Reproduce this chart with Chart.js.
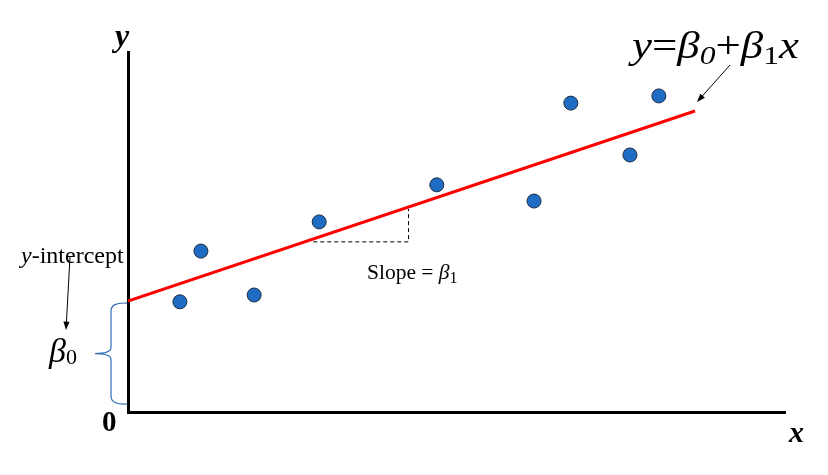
<!DOCTYPE html>
<html>
<head>
<meta charset="utf-8">
<script src="https://cdn.jsdelivr.net/npm/chart.js@4"></script>
<style>
  body { margin: 0; background: #fff; }
</style>
</head>
<body>
<canvas id="chart" width="828" height="475"></canvas>
<script>
// observed points
var pointX = [0.79, 1.11, 1.92, 2.91, 4.70, 6.18, 6.74, 7.64, 8.08];
var pointY = [3.06, 4.47, 3.25, 5.28, 6.31, 5.86, 8.58, 7.14, 8.78];

// fitted line y = b0 + b1 x
var intercept = 3.08;
var slope = 0.612;
var lineX = [0, 8.63];

// slope triangle (x range)
var triX = [2.82, 4.27];

var serif = "'Liberation Serif', 'Times New Roman', serif";

// draw a run of text pieces, optionally stretched to a target width
function drawPieces(ctx, x, y, pieces, width) {
  var total = 0;
  pieces.forEach(function (p) {
    ctx.font = p.font;
    total += ctx.measureText(p.t).width;
  });
  var sx = width ? width / total : 1;
  ctx.save();
  ctx.translate(x, y);
  ctx.scale(sx, 1);
  var cx = 0;
  pieces.forEach(function (p) {
    ctx.font = p.font;
    ctx.fillText(p.t, cx, p.dy || 0);
    cx += ctx.measureText(p.t).width;
  });
  ctx.restore();
}

function arrow(ctx, x1, y1, x2, y2) {
  var a = Math.atan2(y2 - y1, x2 - x1);
  var h = 9;
  ctx.beginPath();
  ctx.moveTo(x1, y1);
  ctx.lineTo(x2 - Math.cos(a) * h * 0.8, y2 - Math.sin(a) * h * 0.8);
  ctx.stroke();
  ctx.beginPath();
  ctx.moveTo(x2, y2);
  ctx.lineTo(x2 - h * Math.cos(a - 0.35), y2 - h * Math.sin(a - 0.35));
  ctx.lineTo(x2 - h * Math.cos(a + 0.35), y2 - h * Math.sin(a + 0.35));
  ctx.closePath();
  ctx.fill();
}

var annotations = {
  id: "annotations",
  afterDatasetsDraw: function (chart) {
    var ctx = chart.ctx;
    var xs = chart.scales.x, ys = chart.scales.y;
    ctx.save();

    // slope triangle
    var lx0 = xs.getPixelForValue(triX[0]);
    var lx1 = xs.getPixelForValue(triX[1]);
    var base = ys.getPixelForValue(intercept + slope * triX[0] - 0.08);
    var top = ys.getPixelForValue(intercept + slope * triX[1]);
    ctx.strokeStyle = "#000";
    ctx.lineWidth = 1;
    ctx.setLineDash([4, 3]);
    ctx.beginPath();
    ctx.moveTo(lx0, base);
    ctx.lineTo(lx1, base);
    ctx.lineTo(lx1, top + 2);
    ctx.stroke();
    ctx.setLineDash([]);

    ctx.fillStyle = "#000";
    ctx.textBaseline = "alphabetic";

    // axis labels
    ctx.font = "bold italic 32px " + serif;
    ctx.fillText("y", 115, 46);
    ctx.font = "bold italic 30px " + serif;
    ctx.fillText("x", 789, 442);
    ctx.font = "bold 29px " + serif;
    ctx.fillText("0", 102, 431);

    // equation
    drawPieces(ctx, 632, 58, [
      { t: "y", font: "italic 37px " + serif },
      { t: "=", font: "37px " + serif },
      { t: "\u03b2", font: "italic 37px " + serif },
      { t: "0", font: "italic 26px " + serif, dy: 6 },
      { t: "+", font: "37px " + serif },
      { t: "\u03b2", font: "italic 37px " + serif },
      { t: "1", font: "26px " + serif, dy: 6 },
      { t: "x", font: "italic 37px " + serif }
    ], 167);

    // slope label
    drawPieces(ctx, 367, 279, [
      { t: "Slope = ", font: "21.5px " + serif },
      { t: "\u03b2", font: "italic 21.5px " + serif },
      { t: "1", font: "16px " + serif, dy: 4 }
    ]);

    // y-intercept label
    drawPieces(ctx, 21, 263, [
      { t: "y", font: "italic 24px " + serif },
      { t: "-intercept", font: "24px " + serif }
    ]);
    drawPieces(ctx, 49, 362, [
      { t: "\u03b2", font: "italic 34px " + serif },
      { t: "0", font: "22px " + serif, dy: 2 }
    ]);

    // arrows
    ctx.lineWidth = 1;
    arrow(ctx, 730, 65, 697, 102);
    arrow(ctx, 70, 257, 66, 330);

    // brace for intercept
    var bTop = ys.getPixelForValue(intercept) + 2;
    var bBot = ys.getPixelForValue(0) - 8;
    var bMid = (bTop + bBot) / 2;
    var xr = 127, xm = 111, xl = 95;
    ctx.strokeStyle = "#2e6db4";
    ctx.lineWidth = 1.2;
    ctx.beginPath();
    ctx.moveTo(xr, bTop);
    ctx.quadraticCurveTo(xm, bTop - 1, xm, bTop + 8);
    ctx.lineTo(xm, bMid - 6);
    ctx.quadraticCurveTo(xm, bMid, xl, bMid);
    ctx.quadraticCurveTo(xm, bMid, xm, bMid + 6);
    ctx.lineTo(xm, bBot - 8);
    ctx.quadraticCurveTo(xm, bBot + 1, xr, bBot);
    ctx.stroke();

    ctx.restore();
  }
};

var ctx = document.getElementById("chart").getContext("2d");
var chart = new Chart(ctx, {
  type: "scatter",
  data: {
    datasets: [
      {
        label: "Fitted line",
        type: "line",
        data: lineX.map(function (x) { return { x: x, y: intercept + slope * x }; }),
        borderColor: "#ff0000",
        borderWidth: 3,
        pointRadius: 0,
        fill: false,
        order: 2
      },
      {
        label: "Observations",
        data: pointX.map(function (x, i) { return { x: x, y: pointY[i] }; }),
        backgroundColor: "#1f6cc4",
        borderColor: "#1a2a40",
        borderWidth: 1,
        pointRadius: 7,
        order: 1
      }
    ]
  },
  options: {
    responsive: false,
    animation: false,
    layout: { padding: { left: 120, top: 52, right: 43, bottom: 55 } },
    scales: {
      x: {
        type: "linear",
        min: 0,
        max: 10,
        grid: { display: false },
        ticks: { display: false },
        border: { display: true, color: "#000", width: 3 }
      },
      y: {
        type: "linear",
        min: 0,
        max: 10,
        grid: { display: false },
        ticks: { display: false },
        border: { display: true, color: "#000", width: 3 }
      }
    },
    plugins: {
      legend: { display: false },
      tooltip: { enabled: false }
    }
  },
  plugins: [annotations]
});
</script>
</body>
</html>
